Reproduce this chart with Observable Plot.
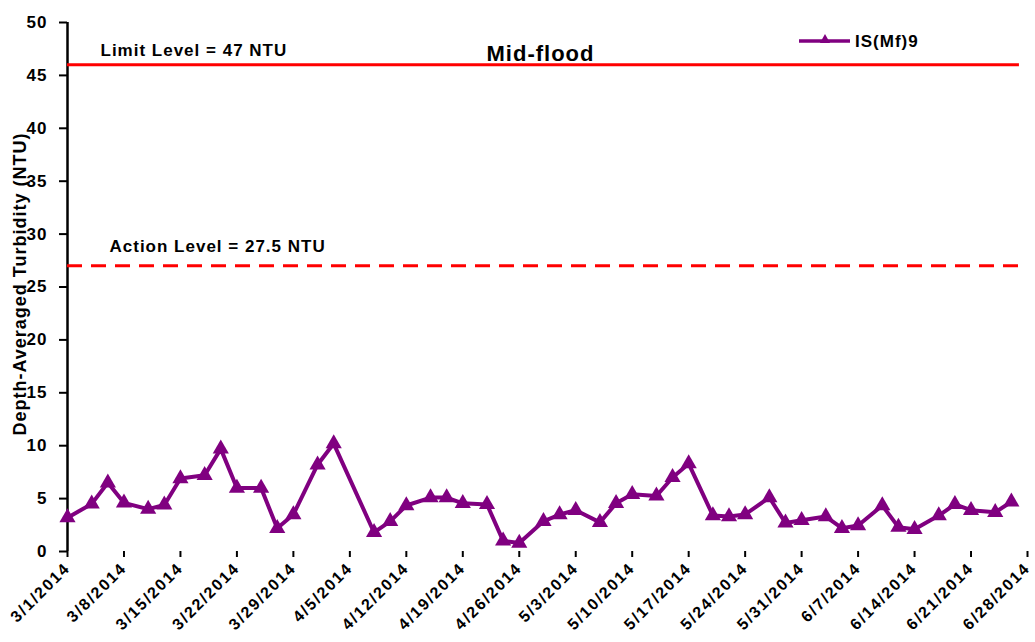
<!DOCTYPE html>
<html><head><meta charset="utf-8">
<script src="https://cdn.jsdelivr.net/npm/d3@7"></script>
<script src="https://cdn.jsdelivr.net/npm/@observablehq/plot@0.6"></script>
<style>
body{margin:0;background:#fff;}
svg{display:block}
svg text{letter-spacing:1px}
.xax text{letter-spacing:1.8px}
</style>
</head><body><div id="chart"></div>
<script>
const seriesName = "IS(Mf)9";
const chartTitle = "Mid-flood";
const yTitle = "Depth-Averaged Turbidity (NTU)";
const sampleDates = ["2014-03-01","2014-03-04","2014-03-06","2014-03-08","2014-03-11","2014-03-13","2014-03-15","2014-03-18","2014-03-20","2014-03-22","2014-03-25","2014-03-27","2014-03-29","2014-04-01","2014-04-03","2014-04-08","2014-04-10","2014-04-12","2014-04-15","2014-04-17","2014-04-19","2014-04-22","2014-04-24","2014-04-26","2014-04-29","2014-05-01","2014-05-03","2014-05-06","2014-05-08","2014-05-10","2014-05-13","2014-05-15","2014-05-17","2014-05-20","2014-05-22","2014-05-24","2014-05-27","2014-05-29","2014-05-31","2014-06-03","2014-06-05","2014-06-07","2014-06-10","2014-06-12","2014-06-14","2014-06-17","2014-06-19","2014-06-21","2014-06-24","2014-06-26"];
const turbidity = [3.2,4.5,6.5,4.6,4.0,4.4,6.9,7.2,9.7,6.0,6.0,2.2,3.5,8.2,10.2,1.8,2.85,4.35,5.1,5.1,4.55,4.45,1.0,0.8,2.85,3.5,3.9,2.75,4.55,5.4,5.25,7.0,8.3,3.4,3.3,3.5,5.1,2.7,2.95,3.3,2.2,2.45,4.35,2.3,2.1,3.4,4.45,3.9,3.7,4.7];
const xTickDates = ["2014-03-01","2014-03-08","2014-03-15","2014-03-22","2014-03-29","2014-04-05","2014-04-12","2014-04-19","2014-04-26","2014-05-03","2014-05-10","2014-05-17","2014-05-24","2014-05-31","2014-06-07","2014-06-14","2014-06-21","2014-06-28"];
const yTicks = [0,5,10,15,20,25,30,35,40,45,50];
const limitLabel = "Limit Level = 47 NTU";
const limitValue = 46;
const actionLabel = "Action Level = 27.5 NTU";
const actionValue = 27;
const levelStart = "2014-03-01";
const levelEnd = "2014-06-27";

const parse = d3.utcParse("%Y-%m-%d");
const data = sampleDates.map((d, i) => ({date: parse(d), value: turbidity[i]}));
const ticks = xTickDates.map(parse);
const fmt = d3.utcFormat("%-m/%-d/%Y");
const font = "'Liberation Sans', Arial, sans-serif";
const purple = "#800080";
const red = "#ff0000";

const plot = Plot.plot({
  width: 1035, height: 642,
  marginLeft: 67, marginRight: 8, marginTop: 22, marginBottom: 91,
  style: {fontFamily: font, fontWeight: "bold", color: "#000", background: "#fff", overflow: "visible"},
  x: {type: "utc", domain: [ticks[0], ticks[ticks.length - 1]]},
  y: {domain: [0, 50]},
  marks: [
    Plot.axisY({ticks: yTicks, tickSize: 8, tickPadding: 12, fontSize: 17, strokeWidth: 2, label: null}),
    Plot.axisX({ticks: ticks, tickFormat: fmt, tickSize: 6, tickPadding: 8, tickRotate: -45, fontSize: 16, strokeWidth: 2, label: null, className: "xax"}),
    Plot.ruleX([ticks[0]], {y1: 0, y2: 50, stroke: "#000", strokeWidth: 2.5}),
    Plot.ruleY([limitValue], {x1: parse(levelStart), x2: parse(levelEnd), stroke: red, strokeWidth: 3}),
    Plot.ruleY([actionValue], {x1: parse(levelStart), x2: parse(levelEnd), stroke: red, strokeWidth: 3, strokeDasharray: "15,9"}),
    Plot.text([limitLabel], {x: parse(levelStart), y: limitValue, dx: 33, dy: -9, textAnchor: "start", lineAnchor: "bottom", fontSize: 17, fill: "#000"}),
    Plot.text([actionLabel], {x: parse(levelStart), y: actionValue, dx: 42, dy: -14, textAnchor: "start", lineAnchor: "bottom", fontSize: 17, fill: "#000"}),
    Plot.line(data, {x: "date", y: "value", stroke: purple, strokeWidth: 4}),
    Plot.dot(data, {x: "date", y: "value", symbol: "triangle", r: 6, fill: purple, stroke: "none"}),
    Plot.text([chartTitle], {frameAnchor: "top", dx: -7, dy: 38, lineAnchor: "bottom", fontSize: 22, fill: "#000"}),
    Plot.text([yTitle], {frameAnchor: "left", textAnchor: "middle", rotate: -90, dx: -47, dy: -3, fontSize: 18, fill: "#000"})
  ]
});

const svg = d3.select(plot);
const g = svg.append("g");
g.append("line").attr("x1", 799).attr("x2", 850).attr("y1", 41).attr("y2", 41)
  .attr("stroke", purple).attr("stroke-width", 3.5);
g.append("path").attr("d", d3.symbol(d3.symbolTriangle, 45)())
  .attr("transform", "translate(825,40)").attr("fill", purple);
g.append("text").attr("x", 855).attr("y", 47).attr("font-size", 17)
  .attr("text-anchor", "start").attr("font-weight", "bold").attr("fill", "#000").text(seriesName);

document.getElementById("chart").appendChild(plot);
</script>
</body></html>
